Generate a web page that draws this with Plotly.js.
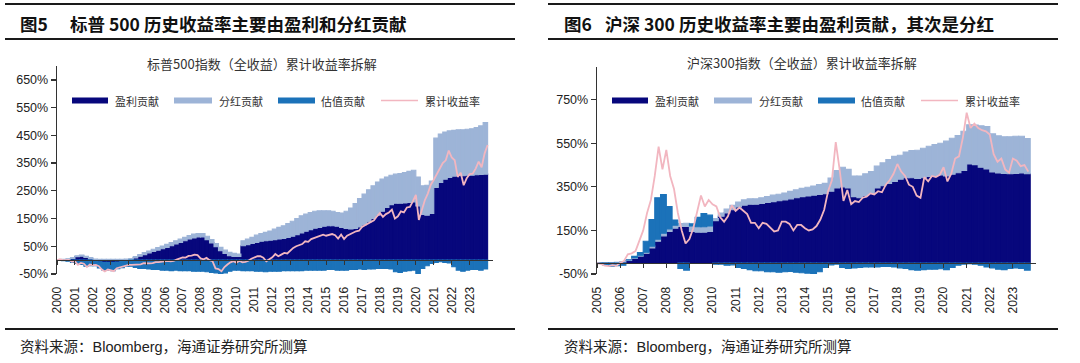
<!DOCTYPE html>
<html><head><meta charset="utf-8">
<script src="https://cdn.plot.ly/plotly-3.0.1.min.js"></script>
<style>
html,body{margin:0;padding:0;background:#fff;}
#wrap{position:relative;width:1080px;height:363px;overflow:hidden;background:#fff;}
#c1{position:absolute;left:0;top:0;width:540px;height:363px;}
#c2{position:absolute;left:540px;top:0;width:540px;height:363px;}
</style></head><body>
<div id="wrap"><div id="c1"></div><div id="c2"></div></div>
<script>
// ---------- series names ----------
const seriesNames = ['盈利贡献', '分红贡献', '估值贡献', '累计收益率'];

// ---------- S&P 500 (quarterly bars 2000Q1-2023Q4, % contribution) ----------
const spYears = ['2000','2001','2002','2003','2004','2005','2006','2007','2008','2009','2010','2011','2012','2013','2014','2015','2016','2017','2018','2019','2020','2021','2022','2023'];
const spEarn = [
  0,0,2,6, 12,14,10,4, -2,-6,-8,-8, -8,-7,-5,-2, 2,8,14,20, 26,31,36,41,
  46,52,58,64, 70,76,80,84, 84,74,62,48, 34,24,16,13, 13,52,56,60, 64,68,70,72,
  74,76,78,82, 86,92,98,104, 110,115,118,122, 124,124,122,118, 114,112,114,120, 128,138,150,162,
  176,190,200,205, 205,206,208,210, 195,165,162,168, 262,280,292,298, 303,305,304,306, 306,308,309,310
];
const spDiv = [
  2,3,3,3, 4,4,4,5, 4,3,3,3, 3,3,3,4, 4,5,6,7, 7,8,9,10,
  11,11,12,12, 12,13,14,12, 12,12,12,12, 12,12,12,12, 9,18,20,22, 26,28,30,33,
  38,42,46,50, 54,58,62,62, 62,61,60,56, 54,52,50,52, 62,76,90,102, 110,116,118,120,
  116,110,106,105, 107,110,112,114, 105,103,108,117, 178,175,170,168, 165,165,166,166, 168,170,175,186
];
const spVal = [
  0,-2,-4,-8, -12,-16,-22,-20, -18,-22,-28,-28, -30,-24,-22,-20, -22,-26,-30,-30, -32,-34,-34,-36,
  -36,-38,-36,-38, -38,-38,-40,-40, -40,-42,-44,-46, -50,-46,-40,-36, -36,-38,-38,-38, -40,-40,-42,-40,
  -40,-40,-38,-38, -38,-38,-38,-36, -36,-36,-36,-36, -34,-34,-36,-36, -36,-34,-34,-32, -34,-32,-32,-30,
  -30,-30,-32,-42, -44,-40,-38,-36, -48,-30,-20,-12, -8,-6,-8,-10, -24,-36,-40,-36, -34,-34,-36,-32
];
// cumulative total return, bimonthly from Jan 2000 to Jan 2024
const spCum = [
  0,3,0,1,1,-6, -4,-17,-10,-13,-25,-16, -18,-17,-22,-34,-41,-34, -38,-40,-29,-26,-24,-19,
  -17,-17,-17,-17,-15,-11, -12,-12,-11,-7,-7,-5, -5,-3,-4,-3,2,6, 10,9,15,16,20,18,
  6,3,8,0,-4,-30, -32,-40,-25,-16,-8,-4, -9,-2,-8,-6,-2,5, 10,14,14,9,-4,4,
  10,22,14,20,26,24, 34,44,50,54,58,68, 66,76,80,84,88,92, 88,92,94,90,78,92,
  76,88,94,100,104,106, 120,126,132,138,144,158, 170,156,166,172,182,150, 158,176,172,190,192,212,
  235,145,185,216,240,272, 290,310,335,350,360,395, 370,360,300,315,270,295, 310,312,330,355,335,385,
  415
];

// ---------- CSI 300 (quarterly bars 2005Q1-2023Q3) ----------
const csiYears = ['2005','2006','2007','2008','2009','2010','2011','2012','2013','2014','2015','2016','2017','2018','2019','2020','2021','2022','2023'];
const csiEarn = [
  0,0,1,2, 5,12,22,32, 45,70,100,125, 145,160,168,168, 145,142,142,145,
  195,215,230,245, 258,266,270,270, 274,278,282,286, 290,295,300,305, 308,312,315,318,
  330,345,350,345, 305,300,310,320, 345,355,365,375, 385,392,392,388, 392,398,402,405,
  400,408,415,425, 455,452,440,432, 418,414,412,410, 412,414,410
];
const csiDiv = [
  1,1,1,2, 2,3,3,4, 5,8,10,12, 12,14,14,15, 25,25,25,25,
  10,15,18,20, 22,24,25,25, 26,28,30,30, 32,34,36,38, 40,42,45,48,
  60,80,90,85, 95,100,100,100, 100,105,110,115, 110,118,125,130, 135,138,142,145,
  160,165,170,180, 180,182,190,195, 175,170,168,170, 170,168,162
];
const csiVal = [
  -2,-8,-14,-12, -10,0,6,12, 50,122,190,178, 102,24,-25,-32, 10,43,61,50,
  -5,-5,-10,-8, -20,-25,-30,-35, -35,-40,-40,-42, -40,-38,-42,-44, -46,-47,-40,-20,
  -8,-5,-20,-25, -22,-20,-18,-18, -18,-15,-15,-18, -22,-25,-30,-32, -30,-28,-28,-26,
  -30,-20,-10,-5, -3,-5,-10,-18, -22,-28,-30,-25, -22,-25,-32
];
// cumulative total return, bimonthly from Jan 2005 to Sep 2023
const csiCum = [
  0,-4,-12,-14,-9,-12, 0,10,40,45,55,100, 150,230,290,400,535,430, 520,400,340,230,150,90,
  110,160,230,310,260,290, 270,260,210,190,215,265, 240,255,240,225,185,185, 160,185,180,160,145,150,
  190,190,180,150,175,175, 160,150,155,170,200,245, 330,380,555,430,285,335, 270,285,280,300,305,320,
  315,330,325,360,380,410, 455,420,400,360,350,310, 300,395,375,400,395,405, 440,375,410,480,490,575,
  690,620,640,620,610,605, 590,500,465,480,430,415, 480,470,445,450,420
];

const C = {navy:'#07077c', light:'#9db4d7', mid:'#1b72b9', pink:'#f2b6c0', ink:'#1a1a1a'};
const CJK = '"Noto Sans CJK SC", "Noto Sans", sans-serif';
const LAT = '"Liberation Sans", Arial, "Noto Sans CJK SC", sans-serif';

function build(div, o) {
  const W = 540, H = 363, L = o.l, R = o.r, T = o.t, B = o.b;
  const w = W - L - R, h = H - T - B;
  const PX = x => (x - L) / w, PY = y => 1 - (y - T) / h;
  const xq = o.earn.map((_, i) => o.start + 0.125 + 0.25 * i);
  const xl = o.cum.map((_, i) => o.start + i / 6);
  const tv = o.years.map(Number);
  const bl = c => ({color:c, line:{color:c, width:1.1}});
  const traces = [
    {type:'bar', name:seriesNames[0], x:xq, y:o.earn, marker:bl(C.navy)},
    {type:'bar', name:seriesNames[1], x:xq, y:o.div, marker:bl(C.light)},
    {type:'bar', name:seriesNames[2], x:xq, y:o.val, marker:bl(C.mid)},
    {type:'scatter', mode:'lines', name:seriesNames[3], x:xl, y:o.cum, line:{color:C.pink, width:1.8}},
    {type:'scatter', mode:'markers', x:[o.range[0]], y:[0], xaxis:'x2', marker:{size:0.1, opacity:0}, hoverinfo:'skip'}
  ];
  const shapes = [];
  const rule = (x0, x1, y, wd) => shapes.push({type:'line', xref:'paper', yref:'paper', x0:PX(x0), x1:PX(x1), y0:PY(y), y1:PY(y), line:{color:C.ink, width:wd}});
  rule(o.rx0, o.rx1, 4, 2);
  rule(o.rx0, o.rx1, 39, 2);
  rule(o.rx0, o.rx1, 329, 1.8);
  const leg = [
    {x0:72, x1:108, tx:113, c:C.navy},
    {x0:174, x1:212, tx:217, c:C.light},
    {x0:278, x1:315, tx:319, c:C.mid},
    {x0:381, x1:418, tx:423, c:C.pink, line:true}
  ];
  const ann = [];
  leg.forEach((g, i) => {
    if (g.line) shapes.push({type:'line', xref:'paper', yref:'paper', x0:PX(g.x0), x1:PX(g.x1), y0:PY(100.5), y1:PY(100.5), line:{color:g.c, width:1.5}});
    else shapes.push({type:'rect', xref:'paper', yref:'paper', x0:PX(g.x0), x1:PX(g.x1), y0:PY(103.5), y1:PY(97.5), fillcolor:g.c, line:{width:0}});
    ann.push({text:seriesNames[i], x:PX(g.tx), y:PY(101), xref:'paper', yref:'paper', xanchor:'left', yanchor:'middle', showarrow:false, font:{family:CJK, size:11, color:'#333'}});
  });
  ann.push({text:o.fig, x:PX(o.figx), y:PY(23.5), xref:'paper', yref:'paper', xanchor:'left', yanchor:'middle', showarrow:false, font:{family:CJK, size:17.5, color:'#111', weight:700}});
  ann.push({text:o.title, x:PX(o.titlex), y:PY(23.5), xref:'paper', yref:'paper', xanchor:'left', yanchor:'middle', showarrow:false, font:{family:CJK, size:17.5, color:'#111', weight:700}});
  ann.push({text:o.sub, x:PX(262), y:PY(63), xref:'paper', yref:'paper', xanchor:'center', yanchor:'middle', showarrow:false, font:{family:CJK, size:13, color:'#333'}});
  ann.push({text:'资料来源：Bloomberg，海通证券研究所测算', x:PX(o.figx), y:PY(346.5), xref:'paper', yref:'paper', xanchor:'left', yanchor:'middle', showarrow:false, font:{family:LAT, size:14.5, color:'#222'}});
  const layout = {
    width:W, height:H, margin:{l:L, r:R, t:T, b:B, pad:0},
    paper_bgcolor:'#fff', plot_bgcolor:'rgba(0,0,0,0)',
    barmode:'relative', bargap:0, showlegend:false, hovermode:false,
    xaxis:{range:o.range, tickvals:tv, ticktext:o.years, tickangle:-90, showgrid:false, zeroline:false, showline:false,
           ticks:'outside', ticklen:7, tickcolor:'rgba(0,0,0,0)', tickfont:{family:LAT, size:12, color:'#222'}},
    xaxis2:{overlaying:'x', anchor:'free', position:o.zeroPos, range:o.range, tickvals:tv, showticklabels:false, showgrid:false, zeroline:false,
            showline:true, linecolor:'#333', linewidth:1, ticks:'outside', ticklen:4, tickcolor:'#333', tickwidth:1},
    yaxis:{range:o.yr, tickvals:o.ytv, ticktext:o.ytv.map(v => v + '%'), showgrid:false, zeroline:false, showline:true, linecolor:'#333', linewidth:1.3,
           ticks:'outside', ticklen:5, tickcolor:'#333', tickwidth:1.3, tickfont:{family:LAT, size:12.5, color:'#222'}},
    shapes:shapes, annotations:ann
  };
  Plotly.newPlot(div, traces, layout, {staticPlot:true, displayModeBar:false});
}

build('c1', {
  l:57, r:47, t:66, b:89, start:2000, range:[2000, 2024.3], yr:[-50, 700], ytv:[-50,50,150,250,350,450,550,650],
  zeroPos:50/750, years:spYears, earn:spEarn, div:spDiv, val:spVal, cum:spCum,
  rx0:5, rx1:515, fig:'图5', figx:18, titlex:68, title:'标普 500 历史收益率主要由盈利和分红贡献',
  sub:'标普500指数（全收益）累计收益率拆解'
});
build('c2', {
  l:57, r:44, t:67, b:89, start:2005, range:[2005, 2024.0], yr:[-50, 900], ytv:[-50,150,350,550,750],
  zeroPos:50/950, years:csiYears, earn:csiEarn, div:csiDiv, val:csiVal, cum:csiCum,
  rx0:8, rx1:518, fig:'图6', figx:22, titlex:63, title:'沪深 300 历史收益率主要由盈利贡献，其次是分红',
  sub:'沪深300指数（全收益）累计收益率拆解'
});
</script>
</body></html>
